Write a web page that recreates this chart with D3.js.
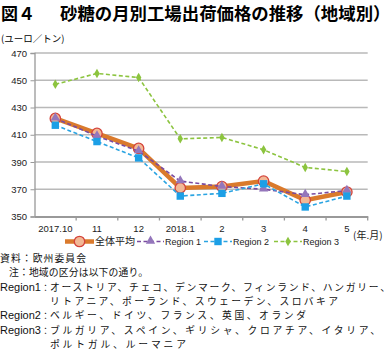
<!DOCTYPE html>
<html>
<head>
<meta charset="utf-8">
<script src="https://cdn.jsdelivr.net/npm/d3@7"></script>
<style>
  body { margin: 0; background: #fff; }
  svg { display: block; font-family: "Noto Sans CJK JP", "Noto Sans", sans-serif; }
</style>
</head>
<body>
<script>
//chart data
var months = ["2017.10", "11", "12", "2018.1", "2", "3", "4", "5"];
var avgAll = [422, 411, 400, 371, 372, 376, 362, 368];
var region1 = [422, 409, 398, 376, 372, 370, 366, 369];
var region2 = [417, 405, 393, 365, 367, 374, 357, 365];
var region3 = [447, 455, 452, 407, 408, 399, 386, 383];
var yTicks = [350, 370, 390, 410, 430, 450, 470];

var seriesNames = ["全体平均", "Region 1", "Region 2", "Region 3"];

//note lines: label (latin) + japanese text, fitted widths from the picture
var noteLabels = ["", "", "Region1", "", "Region2", "Region3", ""];
var noteTexts = [
    "資料：欧州委員会",
    "注：地域の区分は以下の通り。",
    "オーストリア、チェコ、デンマーク、フィンランド、ハンガリー、",
    "リトアニア、ポーランド、スウェーデン、スロバキア",
    "ベルギー、ドイツ、フランス、英国、オランダ",
    "ブルガリア、スペイン、ギリシャ、クロアチア、イタリア、",
    "ポルトガル、ルーマニア"
];
var noteX = [0, 9, 50, 50, 50, 50, 50];
var noteLens = [86, 139, 340, 288, 256, 330, 136];

window.onload = draw();

function draw() {
    var width = 390, height = 362;

    var svg = d3.select("body").append("svg")
        .attr("width", width)
        .attr("height", height);

    //title
    svg.append("text").attr("x", 1).attr("y", 19.5)
        .attr("font-size", 17).attr("font-weight", "bold")
        .text("図４");
    svg.append("text").attr("x", 60).attr("y", 19.5)
        .attr("font-size", 17.4).attr("font-weight", "bold")
        .text("砂糖の月別工場出荷価格の推移（地域別）");

    svg.append("text").attr("x", 1).attr("y", 42)
        .attr("font-size", 9.5).text("(ユーロ／トン)");

    //scales
    var x = d3.scaleBand().domain(months).range([34.5, 367.7]);
    var y = d3.scaleLinear().domain([350, 470]).range([216.5, 53]);

    //grid
    svg.append("g").selectAll("line")
        .data(yTicks.slice(1))
        .enter().append("line")
        .attr("x1", 34.5).attr("x2", 367.7)
        .attr("y1", function(d) { return y(d); })
        .attr("y2", function(d) { return y(d); })
        .attr("stroke", "#b9b9b9").attr("stroke-width", 1.3);

    //y axis
    var yAxis = svg.append("g")
        .attr("transform", "translate(34.5,0)")
        .call(d3.axisLeft(y).tickValues(yTicks).tickSize(4).tickPadding(3.5));
    yAxis.select(".domain").attr("stroke", "#999").attr("stroke-width", 1.3);
    yAxis.selectAll(".tick line").attr("stroke", "#999");
    yAxis.selectAll(".tick text")
        .attr("font-size", 9.5).attr("fill", "#222")
        .attr("font-family", "Liberation Sans, Arial, sans-serif");

    //x axis
    var xAxis = svg.append("g")
        .attr("transform", "translate(0," + y(350) + ")")
        .call(d3.axisBottom(x).tickSize(0).tickPadding(9));
    xAxis.select(".domain").attr("stroke", "#999").attr("stroke-width", 2);
    xAxis.selectAll(".tick text")
        .attr("font-size", 9.5).attr("fill", "#222")
        .attr("font-family", "Liberation Sans, Arial, sans-serif");
    //tick marks on band edges
    xAxis.selectAll(".edge")
        .data(months)
        .enter().append("line")
        .attr("x1", function(d) { return x(d) + x.bandwidth(); })
        .attr("x2", function(d) { return x(d) + x.bandwidth(); })
        .attr("y1", 0).attr("y2", 4)
        .attr("stroke", "#999").attr("stroke-width", 1.3);

    svg.append("text").attr("x", 353).attr("y", 239)
        .attr("font-size", 10).attr("fill", "#222").text("(年.月)");

    var cx = function(d, i) { return x(months[i]) + x.bandwidth() / 2; };

    var lineGen = d3.line()
        .x(function(d, i) { return x(months[i]) + x.bandwidth() / 2; })
        .y(function(d) { return y(d); });

    var series = [
        { name: seriesNames[0], vals: avgAll, color: "#da7a2c", width: 4.5, dash: null, marker: "circle" },
        { name: seriesNames[1], vals: region1, color: "#7a4ba0", width: 1.6, dash: "4,2.5", marker: "triangle" },
        { name: seriesNames[2], vals: region2, color: "#2aa4e2", width: 1.6, dash: "4,2.5", marker: "square" },
        { name: seriesNames[3], vals: region3, color: "#8cc43f", width: 1.6, dash: "4,2.5", marker: "diamond" }
    ];

    function addMarker(g, type, px, py) {
        if (type == "circle") {
            g.append("circle").attr("cx", px).attr("cy", py).attr("r", 5.2)
                .attr("fill", "#f2b896").attr("stroke", "#d4433a").attr("stroke-width", 1.3);
        } else if (type == "triangle") {
            g.append("path").attr("d", d3.symbol().type(d3.symbolTriangle).size(38)())
                .attr("transform", "translate(" + px + "," + (py - 0.5) + ")")
                .attr("fill", "#9476bb");
        } else if (type == "square") {
            g.append("rect").attr("x", px - 3.7).attr("y", py - 3.7)
                .attr("width", 7.4).attr("height", 7.4).attr("fill", "#1c9fe6");
        } else {
            g.append("path").attr("d", d3.symbol().type(d3.symbolDiamond).size(26)())
                .attr("transform", "translate(" + px + "," + py + ")")
                .attr("fill", "#8cc43f");
        }
    }

    series.forEach(function(s) {
        var g = svg.append("g");
        g.append("path")
            .datum(s.vals)
            .attr("d", lineGen)
            .attr("fill", "none")
            .attr("stroke", s.color)
            .attr("stroke-width", s.width)
            .attr("stroke-dasharray", s.dash);
        s.vals.forEach(function(v, i) {
            addMarker(g, s.marker, cx(v, i), y(v));
        });
    });

    //legend
    var legX = [65, 137, 204, 274];
    var legW = [29, 27, 28, 28];
    var legY = 241.5;
    series.forEach(function(s, i) {
        var g = svg.append("g");
        g.append("line")
            .attr("x1", legX[i]).attr("x2", legX[i] + legW[i])
            .attr("y1", legY).attr("y2", legY)
            .attr("stroke", s.color).attr("stroke-width", s.width)
            .attr("stroke-dasharray", s.dash);
        addMarker(g, s.marker, legX[i] + legW[i] / 2, legY);
        g.append("text")
            .attr("x", legX[i] + legW[i] + 1).attr("y", legY + 3.8)
            .attr("font-size", i == 0 ? 10 : 9)
            .attr("fill", "#222")
            .attr("font-family", i == 0 ? "Noto Sans CJK JP" : "Liberation Sans, Arial, sans-serif")
            .text(s.name);
    });

    //notes
    var noteG = svg.append("g").attr("fill", "#111");
    noteTexts.forEach(function(t, i) {
        var by = 262 + i * 14.3;
        if (noteLabels[i] != "") {
            var lab = noteG.append("text").attr("x", 0).attr("y", by);
            lab.append("tspan")
                .attr("font-size", 11)
                .attr("font-family", "Liberation Sans, Arial, sans-serif")
                .text(noteLabels[i]);
            lab.append("tspan")
                .attr("font-size", 9)
                .text("：");
        }
        noteG.append("text").attr("x", noteX[i]).attr("y", by)
            .attr("font-size", 9.8)
            .attr("textLength", noteLens[i])
            .attr("lengthAdjust", "spacing")
            .text(t);
    });
}
</script>
</body>
</html>
